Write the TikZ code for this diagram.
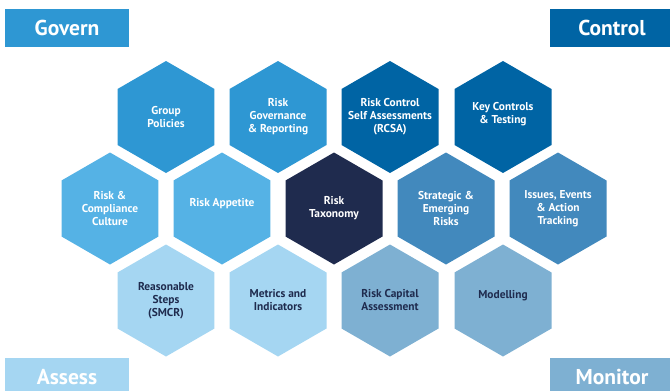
\documentclass[tikz,border=0pt]{standalone}
\usepackage{fontspec}
\setmainfont{PT Sans}
\usepackage{tikz}
\usetikzlibrary{shapes.geometric}
\usepackage{xcolor}
\definecolor{govblue}{HTML}{2E97D3}
\definecolor{ctrlblue}{HTML}{0064A4}
\definecolor{skyblue}{HTML}{55B2E5}
\definecolor{navy}{HTML}{1F2B4E}
\definecolor{steelblue}{HTML}{4289BD}
\definecolor{paleblue}{HTML}{A5D6F2}
\definecolor{greyblue}{HTML}{7EB0D2}

\begin{document}
\begin{tikzpicture}[x=1pt, y=-1pt,
    hexa/.style={regular polygon, regular polygon sides=6, shape border rotate=30,
        minimum size=112pt, inner xsep=-20pt, inner ysep=0pt, align=center, text=white,
        font=\bfseries\fontsize{11.4}{13}\selectfont},
    corner/.style={minimum width=124pt, minimum height=38pt, inner sep=0pt,
        text=white, font=\bfseries\fontsize{21.5}{24}\selectfont}]
    \useasboundingbox (0,0) rectangle (670,391);
    \clip (0,0) rectangle (670,391);

    % corner labels
    \node[corner, fill=govblue] (govern) at (67,28) {Govern};
    \node[corner, fill=ctrlblue] (control) at (612,28) {Control};
    \node[corner, fill=paleblue] (assess) at (67,377) {Assess};
    \node[corner, fill=greyblue] (monitor) at (612,377) {Monitor};

    % top row
    \node[hexa, fill=govblue] (policies) at (166,117) {Group\\Policies};
    \node[hexa, fill=govblue] (governance) at (278,117) {Risk\\Governance\\\& Reporting};
    \node[hexa, fill=ctrlblue] (rcsa) at (390,117) {Risk Control\\Self Assessments\\(RCSA)};
    \node[hexa, fill=ctrlblue] (keyctrl) at (503,117) {Key Controls\\\& Testing\\[-4pt]\mbox{}};

    % middle row
    \node[hexa, fill=skyblue] (culture) at (110,208.5) {Risk \&\\Compliance\\Culture};
    \node[hexa, fill=skyblue] (appetite) at (222,208.5) {Risk Appetite\\\mbox{}};
    \node[hexa, fill=navy] (taxonomy) at (334,208.5) {Risk\\Taxonomy};
    \node[hexa, fill=steelblue] (emerging) at (446,208.5) {Strategic \&\\Emerging\\Risks};
    \node[hexa, fill=steelblue] (issues) at (558,208.5) {Issues, Events\\\& Action\\Tracking};

    % bottom row
    \node[hexa, fill=paleblue, text=navy] (steps) at (166,300.5) {Reasonable\\Steps\\(SMCR)};
    \node[hexa, fill=paleblue, text=navy] (metrics) at (278,300.5) {Metrics and\\Indicators};
    \node[hexa, fill=greyblue, text=navy] (capital) at (390,300.5) {Risk Capital\\Assessment};
    \node[hexa, fill=greyblue, text=navy] (modelling) at (503,300.5) {Modelling\\\mbox{}};
\end{tikzpicture}
\end{document}
